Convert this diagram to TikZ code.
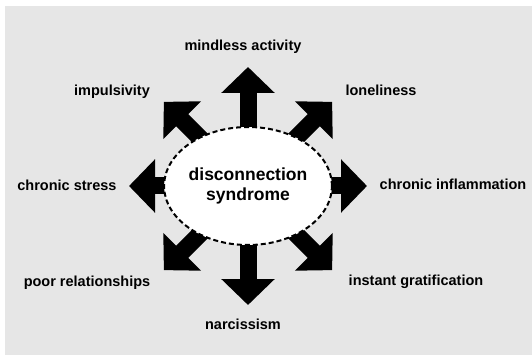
\documentclass[tikz,border=0pt]{standalone}
\usepackage{fontspec}
\setmainfont{Liberation Sans}
\usetikzlibrary{arrows.meta,shapes.geometric}
\definecolor{panel}{HTML}{E6E6E6}
\tikzset{
  spoke/.style={line width=17pt,-{Triangle[width=52pt,length=26pt]}},
  lbl/.style={font=\bfseries\fontsize{14.5}{17}\selectfont,anchor=base,inner sep=0pt},
  hub/.style={ellipse,draw,fill=white,line width=2pt,dash pattern=on 5pt off 3pt,
    minimum width=150pt,minimum height=118pt,inner sep=0pt,align=center,
    font=\bfseries\fontsize{17.5}{20}\selectfont},
}

\begin{document}
\begin{tikzpicture}[x=1pt,y=-1pt]
\useasboundingbox (0,0) rectangle (532,355);
\fill[panel] (5,6) rectangle (532,355);
\coordinate (c) at (248,186);
\foreach \a/\n in {90/n,45/ne,0/e,-45/se,-90/s,-135/sw,180/w,135/nw}
  \path (c) ++(\a:119pt) coordinate (t\n);
\foreach \n in {n,ne,e,se,s,sw,w,nw}
  \draw[spoke] (c) -- (t\n);
\node[hub] (hub) at (c) {disconnection\\syndrome};
\node[lbl] (mindless) at (243,51) {mindless activity};
\node[lbl] (impuls) at (112,96) {impulsivity};
\node[lbl] (lonely) at (381,96) {loneliness};
\node[lbl] (stress) at (67,191) {chronic stress};
\node[lbl] (inflam) at (453,190) {chronic inflammation};
\node[lbl] (poorrel) at (87,286) {poor relationships};
\node[lbl] (instant) at (416,285) {instant gratification};
\node[lbl] (narc) at (243,329) {narcissism};
\end{tikzpicture}
\end{document}
